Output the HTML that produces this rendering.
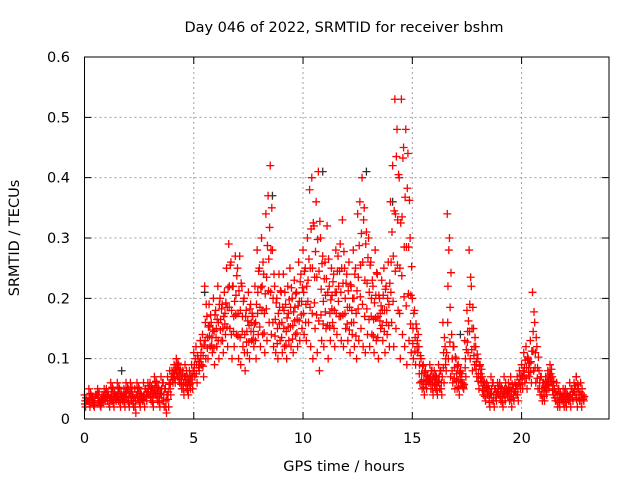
<!DOCTYPE html>
<html><head><meta charset="utf-8"><style>
body{margin:0;background:#fff;}
svg{display:block;font-family:"DejaVu Sans","Liberation Sans",sans-serif;}
</style></head><body>
<svg id="c" width="640" height="480">
<text x="344" y="32" font-size="14.5" text-anchor="middle">Day 046 of 2022, SRMTID for receiver bshm</text>
<text x="344" y="471" font-size="14.5" text-anchor="middle">GPS time / hours</text>
<text transform="translate(19,238) rotate(-90)" font-size="14.5" text-anchor="middle">SRMTID / TECUs</text>
<g id="grid"></g><g id="marks"></g><g id="axes"></g>
</svg>
<script>
const xTicks=[0,5,10,15,20];
const yTicks=[0,0.1,0.2,0.3,0.4,0.5,0.6];
const yTickLabels=["0","0.1","0.2","0.3","0.4","0.5","0.6"];
const timeStep=0.1;
const seriesA=[.04,.03,.05,.04,.03,.04,.05,.03,.04,.05,
.05,.04,.06,.05,.04,.06,.05,.04,.05,.06,
.05,.06,.04,.05,.06,.05,.04,.06,.05,.06,
.06,.05,.07,.06,.05,.07,.06,.05,.07,.08,
.08,.09,.10,.09,.08,.08,.09,.07,.08,.09,
.11,.12,.10,.13,.14,.22,.17,.19,.16,.20,
.18,.22,.20,.19,.21,.25,.29,.26,.22,.27,
.25,.27,.22,.20,.18,.21,.19,.17,.22,.28,
.25,.30,.24,.34,.37,.42,.28,.22,.20,.24,
.21,.24,.19,.22,.25,.20,.23,.21,.26,.24,
.28,.25,.30,.38,.40,.32,.36,.41,.30,.27,
.26,.32,.22,.25,.24,.28,.27,.29,.33,.25,
.24,.26,.22,.28,.25,.34,.36,.40,.35,.31,
.30,.26,.22,.28,.24,.20,.23,.25,.22,.26,
.36,.42,.53,.48,.40,.53,.45,.48,.44,.30,
.20,.18,.15,.12,.10,.09,.08,.07,.09,.08,
.08,.07,.09,.08,.16,.12,.34,.30,.14,.12,
.10,.09,.08,.06,.13,.18,.28,.22,.15,.12,
.10,.09,.07,.06,.06,.05,.07,.06,.05,.06,
.06,.05,.07,.05,.06,.07,.05,.06,.07,.08,
.09,.11,.12,.10,.13,.21,.16,.12,.08,.07,
.06,.07,.08,.09,.07,.05,.06,.05,.04,.05,
.05,.04,.06,.05,.06,.07,.05,.06,.04];
const seriesB=[.02,.03,.02,.03,.02,.04,.03,.02,.03,.03,
.03,.02,.03,.02,.03,.03,.02,.03,.02,.03,
.02,.03,.02,.01,.03,.02,.03,.02,.03,.04,
.03,.02,.04,.03,.02,.03,.02,.01,.02,.04,
.06,.06,.07,.06,.05,.04,.05,.04,.05,.05,
.07,.06,.08,.09,.07,.10,.10,.12,.11,.09,
.12,.10,.13,.11,.14,.12,.15,.10,.12,.14,
.10,.09,.12,.08,.11,.10,.13,.12,.10,.14,
.12,.14,.11,.13,.16,.14,.12,.11,.10,.13,
.11,.12,.10,.13,.12,.11,.14,.12,.13,.15,
.14,.13,.16,.12,.10,.15,.11,.08,.13,.12,
.15,.10,.13,.16,.12,.14,.17,.13,.12,.15,
.13,.11,.14,.12,.10,.13,.15,.12,.11,.14,
.12,.14,.11,.13,.10,.15,.13,.11,.14,.12,
.16,.12,.15,.18,.10,.14,.12,.09,.13,.11,
.10,.09,.11,.06,.05,.04,.05,.06,.05,.04,
.05,.04,.05,.04,.06,.08,.10,.07,.06,.05,
.05,.04,.06,.05,.07,.11,.10,.08,.09,.07,
.05,.06,.04,.03,.04,.02,.03,.02,.03,.04,
.03,.02,.03,.04,.03,.02,.03,.04,.03,.05,
.05,.06,.05,.07,.06,.08,.06,.05,.04,.03,
.03,.04,.05,.06,.04,.03,.02,.02,.03,.02,
.02,.03,.02,.03,.04,.02,.03,.02,.03];
const seriesMid=seriesA.map((v,i)=>(v+seriesB[i])/2);
const seriesUpper=seriesA.map((v,i)=>(v+seriesMid[i])/2);
const seriesLower=seriesB.map((v,i)=>(v+seriesMid[i])/2);
const blackTimes=[1.7,5.5,8.6,10.9,12.9,14.1,17.2,22.5];
const blackVals=[0.08,0.21,0.37,0.41,0.41,0.36,0.14,0.07];

const L=84.5,R=609,T=57,B=419;
const X=t=>L+(t/24)*(R-L);
const Y=v=>B-(v/0.6)*(B-T);
const NS="http://www.w3.org/2000/svg";
function mk(tag,attrs,parent){const e=document.createElementNS(NS,tag);for(const k in attrs)e.setAttribute(k,attrs[k]);parent.appendChild(e);return e;}
const grid=document.getElementById('grid'),marks=document.getElementById('marks'),axes=document.getElementById('axes');
xTicks.forEach(t=>{
  const x=X(t);
  if(t>0){const g=mk('line',{x1:x,x2:x,y1:T,y2:B,stroke:'#a0a0a0','stroke-dasharray':'2,3'},grid);
  
  }
  const tk=mk('path',{d:`M${x},${B}v-7M${x},${T}v7`,stroke:'#000'},axes);
  
  
  const lb=mk('text',{x:x,y:443,'font-size':14.5,'text-anchor':'middle'},axes);lb.textContent=t;
  
  
});
yTicks.forEach((v,i)=>{
  const y=Y(v);
  if(v>0&&v<0.6){const g=mk('line',{x1:L,x2:R,y1:y,y2:y,stroke:'#a0a0a0','stroke-dasharray':'2,3'},grid);
  
  }
  const tk=mk('path',{d:`M${L},${y}h7M${R},${y}h-7`,stroke:'#000'},axes);
  
  
  const lb=mk('text',{x:70,y:y+5,'font-size':14.5,'text-anchor':'end'},axes);lb.textContent=yTickLabels[i];
  
  
});
const frame=mk('rect',{x:L,y:T,width:R-L,height:B-T,fill:'none',stroke:'#000'},axes);


function plus(t,v,color){
  const x=X(t),y=Y(v);
  const p=mk('path',{d:`M${x-4},${y}h8M${x},${y-4}v8`,stroke:color,'stroke-width':1.3},marks);
  
  
}
blackTimes.forEach((t,i)=>plus(t,blackVals[i],'#303030'));
seriesA.forEach((v,i)=>plus(i*timeStep,v,'#ff0000'));
seriesB.forEach((v,i)=>plus(i*timeStep+0.05,v,'#ff0000'));
seriesMid.forEach((v,i)=>plus(i*timeStep+0.03,v,'#ff0000'));
seriesUpper.forEach((v,i)=>plus(i*timeStep+0.07,v,'#ff0000'));
seriesLower.forEach((v,i)=>plus(i*timeStep+0.02,v,'#ff0000'));
</script>
</body></html>
